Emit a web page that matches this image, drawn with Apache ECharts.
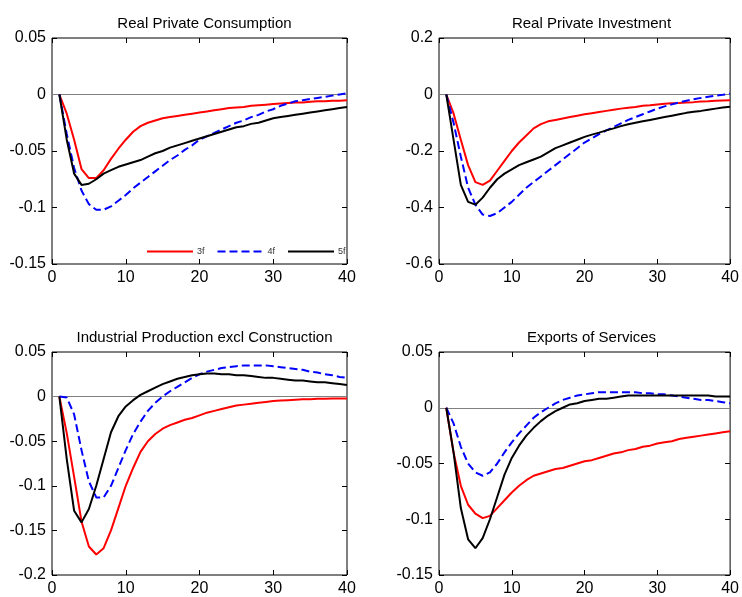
<!DOCTYPE html>
<html>
<head>
<meta charset="utf-8">
<script src="https://cdn.jsdelivr.net/npm/echarts@6/dist/echarts.min.js"></script>
<style>html,body{margin:0;padding:0;background:#fff;}#c{width:742px;height:597px;}</style>
</head>
<body>
<div id="c"></div>
<script>
var horizons = [];
for (var i = 1; i <= 40; i++) horizons.push(i);

var titles = ["Real Private Consumption", "Real Private Investment", "Industrial Production excl Construction", "Exports of Services"];
var seriesNames = ["3f", "4f", "5f"];

var yMin = [-0.15, -0.6, -0.2, -0.15];
var yMax = [0.05, 0.2, 0.05, 0.05];
var yStep = [0.05, 0.2, 0.05, 0.05];
var xTicks = [0, 10, 20, 30, 40];

var consumption3f = [0, -0.017, -0.04, -0.066, -0.074, -0.074, -0.067, -0.057, -0.048, -0.040, -0.033, -0.028, -0.025, -0.023, -0.021, -0.020, -0.019, -0.018, -0.017, -0.016, -0.015, -0.014, -0.013, -0.012, -0.0115, -0.011, -0.010, -0.0095, -0.009, -0.0085, -0.008, -0.0075, -0.007, -0.007, -0.0065, -0.006, -0.006, -0.0055, -0.0055, -0.005];
var consumption4f = [0, -0.035, -0.065, -0.085, -0.097, -0.102, -0.102, -0.099, -0.094, -0.089, -0.083, -0.078, -0.073, -0.068, -0.063, -0.058, -0.054, -0.049, -0.045, -0.040, -0.037, -0.034, -0.031, -0.028, -0.025, -0.023, -0.020, -0.018, -0.015, -0.013, -0.010, -0.008, -0.006, -0.005, -0.004, -0.003, -0.002, -0.001, 0.000, 0.001];
var consumption5f = [0, -0.04, -0.07, -0.080, -0.079, -0.075, -0.070, -0.067, -0.064, -0.062, -0.060, -0.058, -0.055, -0.052, -0.050, -0.047, -0.045, -0.043, -0.041, -0.039, -0.037, -0.035, -0.033, -0.031, -0.029, -0.028, -0.026, -0.025, -0.023, -0.021, -0.020, -0.019, -0.018, -0.017, -0.016, -0.015, -0.014, -0.013, -0.012, -0.011];

var investment3f = [0, -0.067, -0.16, -0.25, -0.31, -0.32, -0.305, -0.27, -0.235, -0.20, -0.17, -0.145, -0.12, -0.105, -0.095, -0.09, -0.085, -0.08, -0.075, -0.07, -0.066, -0.062, -0.058, -0.054, -0.05, -0.047, -0.044, -0.04, -0.038, -0.035, -0.033, -0.031, -0.03, -0.028, -0.027, -0.025, -0.024, -0.022, -0.021, -0.02];
var investment4f = [0, -0.10, -0.22, -0.33, -0.39, -0.425, -0.43, -0.42, -0.40, -0.38, -0.355, -0.33, -0.31, -0.29, -0.27, -0.25, -0.23, -0.21, -0.19, -0.17, -0.155, -0.14, -0.127, -0.115, -0.102, -0.09, -0.08, -0.07, -0.06, -0.05, -0.042, -0.035, -0.028, -0.022, -0.017, -0.012, -0.008, -0.004, -0.001, 0.003];
var investment5f = [0, -0.16, -0.32, -0.38, -0.39, -0.365, -0.33, -0.30, -0.28, -0.265, -0.25, -0.24, -0.23, -0.22, -0.205, -0.19, -0.18, -0.17, -0.16, -0.15, -0.142, -0.135, -0.127, -0.12, -0.112, -0.105, -0.10, -0.095, -0.09, -0.085, -0.08, -0.075, -0.07, -0.065, -0.061, -0.058, -0.054, -0.05, -0.046, -0.043];

var industry3f = [0, -0.041, -0.09, -0.14, -0.168, -0.177, -0.17, -0.15, -0.125, -0.10, -0.08, -0.062, -0.05, -0.042, -0.036, -0.032, -0.029, -0.026, -0.024, -0.021, -0.018, -0.016, -0.014, -0.012, -0.010, -0.009, -0.008, -0.007, -0.006, -0.005, -0.0045, -0.004, -0.0035, -0.003, -0.003, -0.0025, -0.0025, -0.002, -0.002, -0.002];
var industry4f = [0, -0.001, -0.02, -0.06, -0.095, -0.113, -0.113, -0.10, -0.08, -0.06, -0.042, -0.028, -0.016, -0.007, 0.0, 0.006, 0.011, 0.016, 0.021, 0.025, 0.028, 0.030, 0.032, 0.033, 0.034, 0.035, 0.035, 0.035, 0.035, 0.034, 0.033, 0.032, 0.031, 0.030, 0.028, 0.027, 0.025, 0.024, 0.022, 0.021];
var industry5f = [0, -0.07, -0.128, -0.141, -0.126, -0.10, -0.07, -0.04, -0.022, -0.011, -0.004, 0.002, 0.006, 0.010, 0.014, 0.017, 0.020, 0.022, 0.024, 0.025, 0.026, 0.026, 0.025, 0.025, 0.024, 0.024, 0.023, 0.022, 0.021, 0.021, 0.020, 0.019, 0.018, 0.018, 0.017, 0.016, 0.016, 0.015, 0.014, 0.013];

var exports3f = [0, -0.04, -0.07, -0.087, -0.095, -0.099, -0.097, -0.09, -0.083, -0.076, -0.07, -0.065, -0.061, -0.059, -0.057, -0.055, -0.054, -0.052, -0.05, -0.048, -0.047, -0.045, -0.043, -0.041, -0.04, -0.038, -0.037, -0.035, -0.034, -0.032, -0.031, -0.030, -0.028, -0.027, -0.026, -0.025, -0.024, -0.023, -0.022, -0.021];
var exports4f = [0, -0.014, -0.035, -0.05, -0.058, -0.061, -0.058, -0.05, -0.04, -0.031, -0.023, -0.016, -0.009, -0.004, 0.0, 0.004, 0.007, 0.009, 0.011, 0.012, 0.013, 0.014, 0.014, 0.014, 0.014, 0.014, 0.014, 0.013, 0.013, 0.012, 0.012, 0.011, 0.010, 0.009, 0.008, 0.007, 0.007, 0.006, 0.005, 0.004];
var exports5f = [0, -0.04, -0.09, -0.118, -0.126, -0.117, -0.1, -0.08, -0.06, -0.045, -0.034, -0.025, -0.018, -0.012, -0.007, -0.003, 0.0, 0.003, 0.004, 0.006, 0.007, 0.008, 0.008, 0.009, 0.010, 0.011, 0.011, 0.011, 0.011, 0.011, 0.011, 0.011, 0.011, 0.011, 0.011, 0.011, 0.011, 0.010, 0.010, 0.010];

var panels = [
  [consumption3f, consumption4f, consumption5f],
  [investment3f, investment4f, investment5f],
  [industry3f, industry4f, industry5f],
  [exports3f, exports4f, exports5f]
];

var gridPos = [
  {left: 52, top: 38, width: 295, height: 226},
  {left: 439, top: 38, width: 295, height: 226},
  {left: 52, top: 352, width: 295, height: 225},
  {left: 439, top: 352, width: 295, height: 225}
];
var titleTop = [11, 11, 325, 325];
var colors = ["#ff0000", "#0000ff", "#000000"];
var lineTypes = ["solid", [8, 4], "solid"];
var FONT = "Liberation Sans, Arial, sans-serif";

function pair(vals) {
  return vals.map(function (v, i) { return [horizons[i], v]; });
}
function fmt(v) {
  if (Math.abs(v) < 1e-9) return "0";
  return String(parseFloat(v.toFixed(3)));
}

var option = {
  animation: false,
  backgroundColor: "#ffffff",
  title: [], grid: [], xAxis: [], yAxis: [], series: [],
  legend: {
    data: seriesNames,
    left: 141, top: 242,
    itemWidth: 46, itemHeight: 10, itemGap: 12,
    itemStyle: {opacity: 0},
    textStyle: {fontSize: 9, color: "#333", fontFamily: FONT, padding: [0, 0, 0, -1]}
  }
};

for (var p = 0; p < 4; p++) {
  var g = gridPos[p];
  option.grid.push({left: g.left, top: g.top, width: g.width, height: g.height, show: true, borderColor: "#000", borderWidth: 1, backgroundColor: "#fff"});
  option.title.push({
    text: titles[p], left: g.left + g.width / 2, top: titleTop[p], textAlign: "center",
    textStyle: {fontSize: 15, fontWeight: "normal", color: "#000", fontFamily: FONT}
  });
  var axisCommon = {
    type: "value", gridIndex: p, splitLine: {show: false},
    axisLine: {show: false, onZero: false},
    axisTick: {show: true, inside: true, length: 5, lineStyle: {color: "#000"}}
  };
  option.xAxis.push(Object.assign({}, axisCommon, {
    position: "bottom", min: 0, max: 40, interval: 10,
    axisLabel: {fontSize: 16, color: "#000", fontFamily: FONT, margin: 6, showMaxLabel: true}
  }));
  option.xAxis.push(Object.assign({}, axisCommon, {
    position: "top", min: 0, max: 40, interval: 10, axisLabel: {show: false}
  }));
  option.yAxis.push(Object.assign({}, axisCommon, {
    position: "left", min: yMin[p], max: yMax[p], interval: yStep[p],
    axisLabel: {fontSize: 16, color: "#000", fontFamily: FONT, margin: 6, formatter: fmt}
  }));
  option.yAxis.push(Object.assign({}, axisCommon, {
    position: "right", min: yMin[p], max: yMax[p], interval: yStep[p], axisLabel: {show: false}
  }));
  for (var s = 0; s < 3; s++) {
    var ser = {
      name: seriesNames[s], type: "line",
      xAxisIndex: p * 2, yAxisIndex: p * 2,
      data: pair(panels[p][s]),
      symbol: "none", smooth: false, z: 3 + s,
      lineStyle: {color: colors[s], width: 2, type: lineTypes[s]},
      itemStyle: {color: colors[s]}
    };
    if (s === 0) {
      ser.markLine = {
        silent: true, symbol: "none", label: {show: false}, z: 1,
        lineStyle: {color: "#808080", width: 1, type: "solid"},
        data: [{yAxis: 0}]
      };
    }
    option.series.push(ser);
  }
}

var chart = echarts.init(document.getElementById("c"), null, {renderer: "canvas"});
chart.setOption(option);
</script>
</body>
</html>
